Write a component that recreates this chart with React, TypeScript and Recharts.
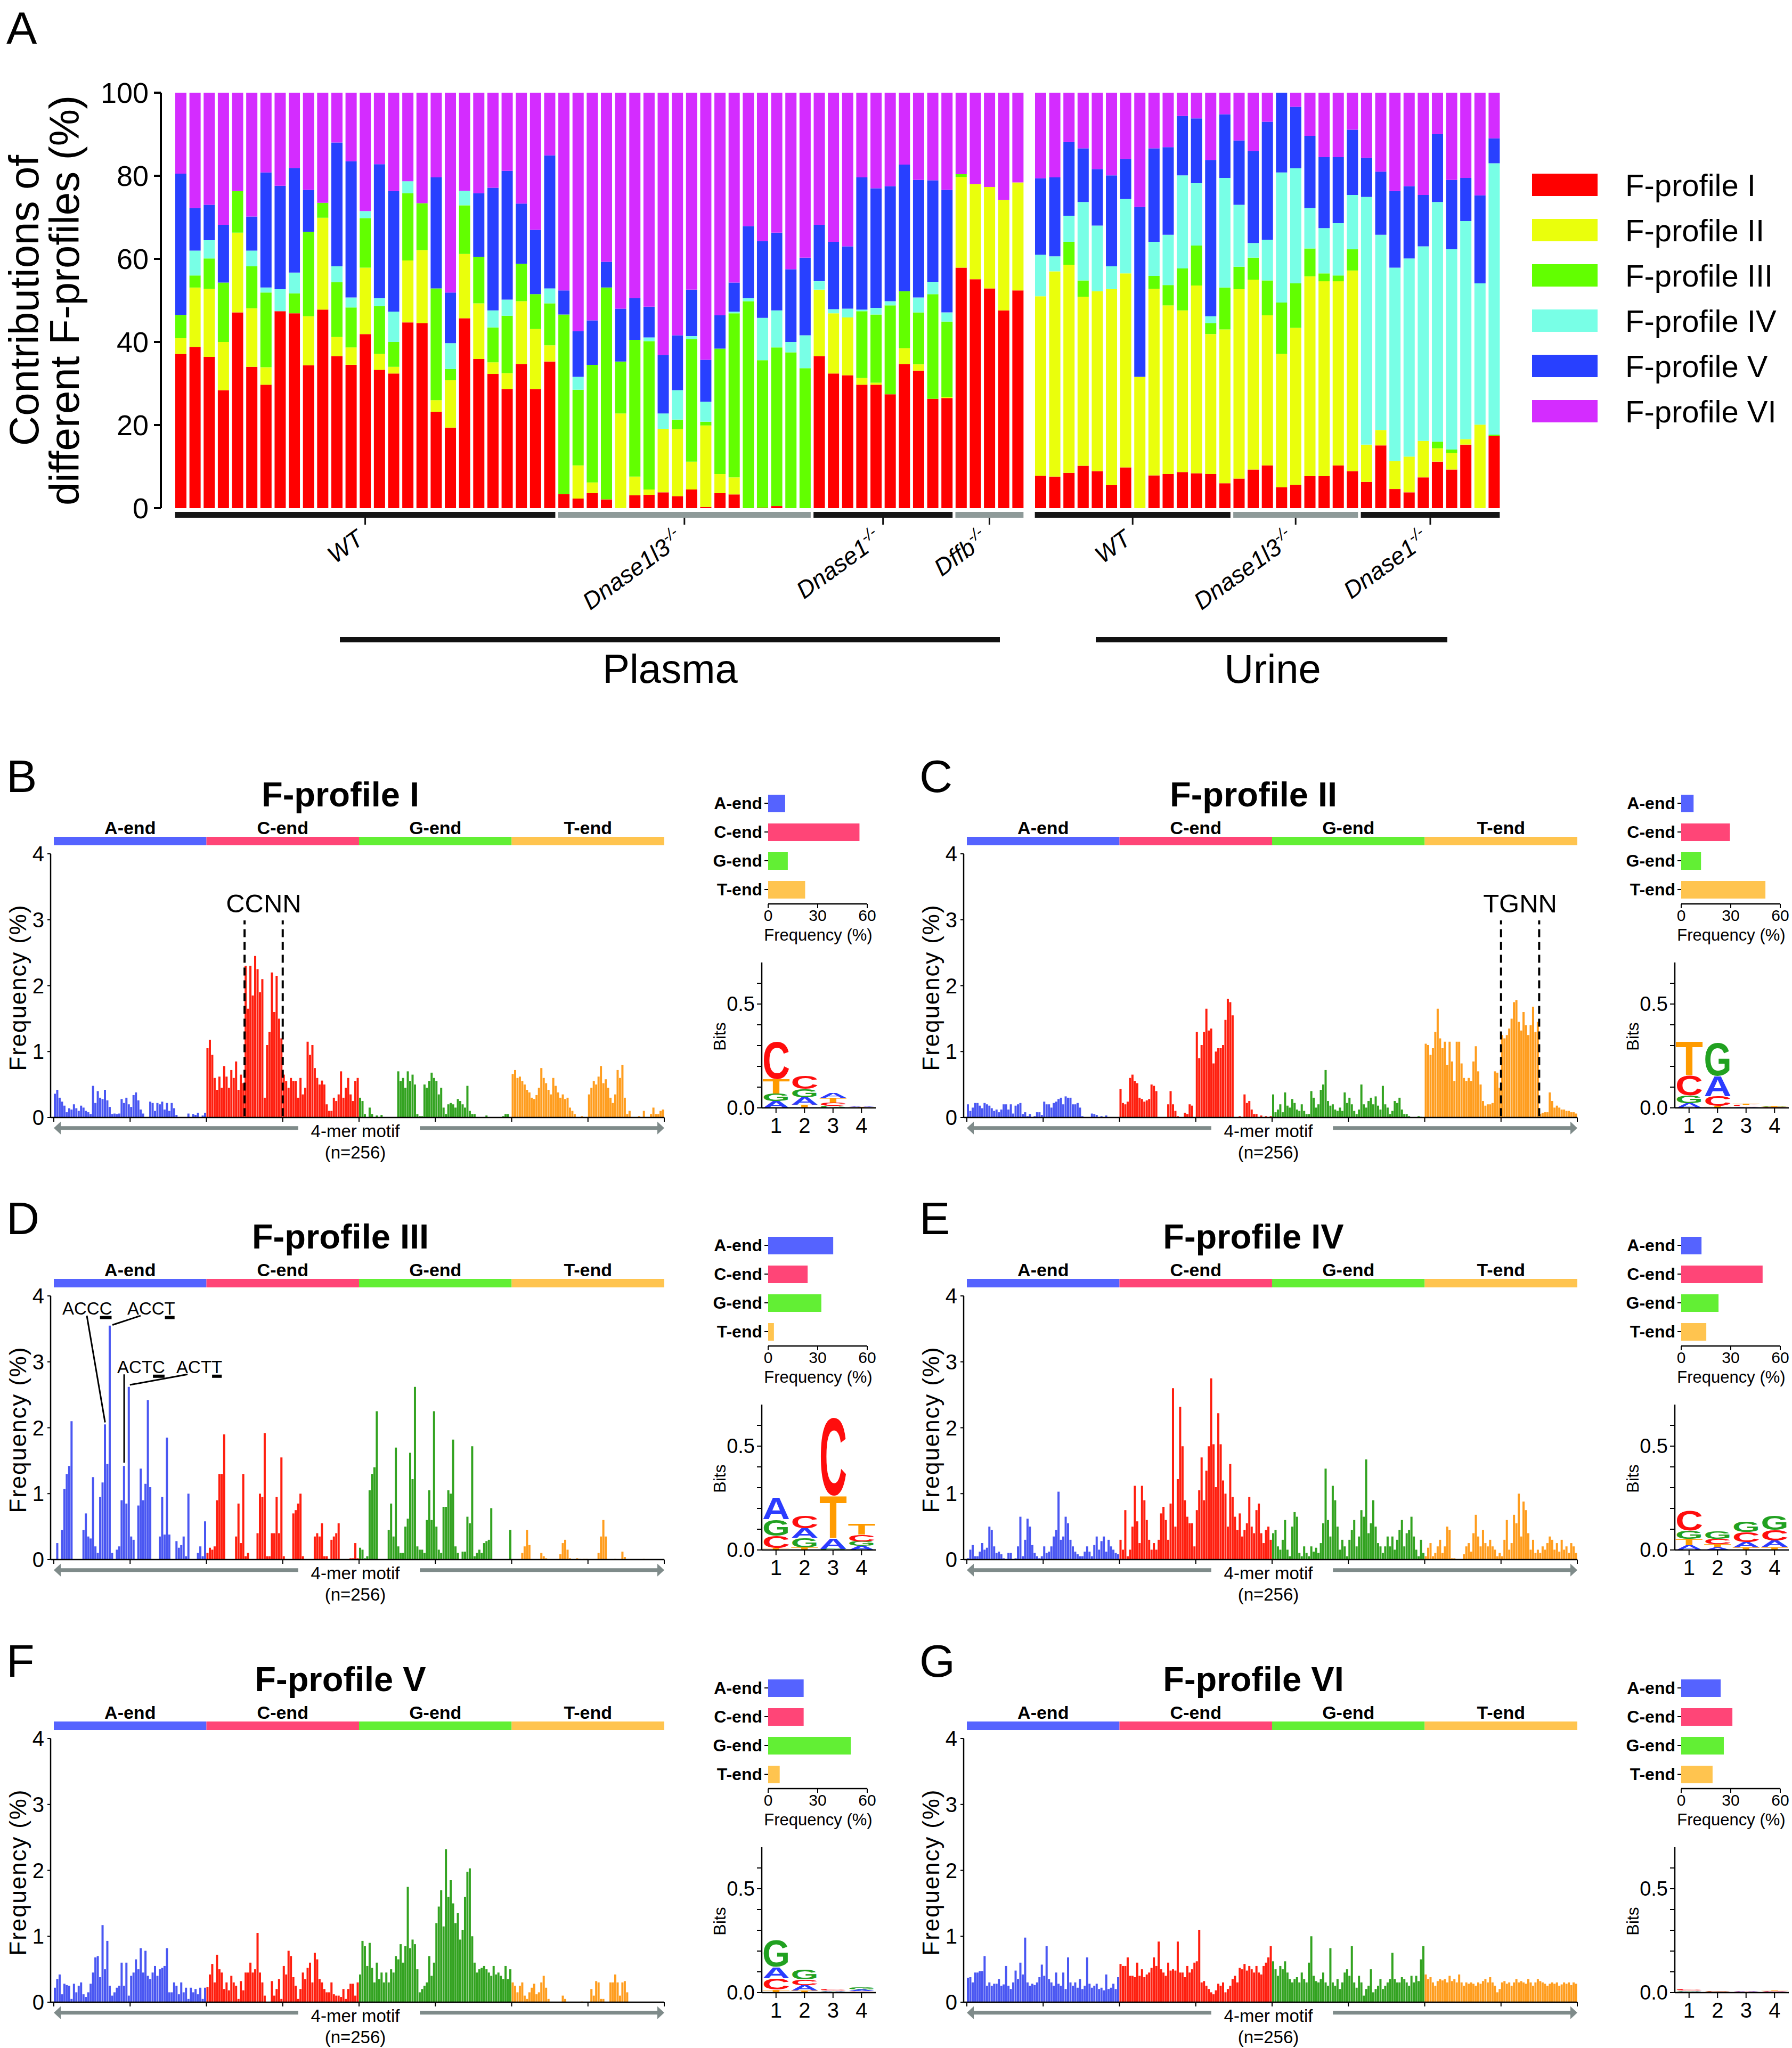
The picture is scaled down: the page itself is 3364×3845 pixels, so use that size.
import React from 'react';
import { BarChart, Bar, XAxis, YAxis, Cell, ReferenceArea, ReferenceLine, ReferenceDot } from 'recharts';

const SANS = "'Liberation Sans', Arial, Helvetica, sans-serif";

// ---------------- Panel A data ----------------
const profileNames = ['F-profile I', 'F-profile II', 'F-profile III', 'F-profile IV', 'F-profile V', 'F-profile VI'];
const profileColors = ['#ff0000', '#eaff0c', '#62ff00', '#78ffe6', '#2840ff', '#d42cff'];

const plasmaGroupNames = ['WT', 'Dnase1l3', 'Dnase1', 'Dffb'];
const plasmaGroupSizes = [27, 18, 10, 5];
const plasmaGroupShades = ['#151515', '#8e9a99', '#151515', '#8e9a99'];
const urineGroupNames = ['WT', 'Dnase1l3', 'Dnase1'];
const urineGroupSizes = [14, 9, 10];
const urineGroupShades = ['#151515', '#8e9a99', '#151515'];

const plasmaP1 = [37.1,38.8,36.4,28.4,47.1,34.0,29.7,47.4,46.9,34.4,47.8,36.6,34.5,41.9,33.3,32.4,44.7,44.5,23.2,19.4,45.7,35.9,32.3,28.7,34.7,28.7,35.3, 3.4,2.3,3.6,2.1,0,3.1,3.2,3.8,2.9,4.5,0.3,3.6,3.3,0,0.1,0.5,0,0, 36.6,32.4,32.0,29.7,29.7,27.4,34.7,33.1,26.3,26.5, 57.9,55.1,52.9,47.6,52.4];
const plasmaP2 = [3.8,14.3,16.4,11.6,19.2,14.1,4.2,0,0,11.8,22.1,4.6,4.2,16.0,3.8,1.6,14.9,17.6,2.8,11.4,15.5,13.4,2.8,3.8,15.1,14.4,3.9, 0,8.0,2.6,0,22.8,4.5,1.3,15.3,16.1,6.7,19.6,4.6,4.1,0,0,0,0,0, 16.0,14.5,13.9,1.6,0.5,0,3.8,1.5,0,0.3, 21.8,22.9,24.4,26.6,26.0];
const plasmaP3 = [5.6,2.9,7.3,14.3,10.0,10.1,18.0,0,4.8,20.3,3.6,13.2,9.6,11.9,11.5,6.0,16.2,11.3,26.9,2.7,11.7,11.2,8.4,13.8,9.0,8.4,10.1, 43.2,18.2,28.3,51.0,12.5,32.9,35.7,0,2.3,29.5,0.9,30.2,39.5,49.8,35.5,38.2,37.5,33.7, 0,0,0,16.1,16.4,21.4,13.7,12.5,25.2,18.1, 0.7,0,0,0,0];
const plasmaP4 = [0,6.0,4.4,0,0,3.8,1.2,5.3,5.0,0,0,3.8,2.4,1.7,1.9,7.3,2.9,0,0,6.2,3.5,0,4.1,3.9,0,0,3.6, 0,3.1,0,0,0,0,0.9,3.7,7.1,0.7,4.8,0,0.4,0.7,10.2,8.9,2.5,7.9, 2.0,1.0,2.1,0.4,1.6,1.0,0,3.6,3.0,2.2, 0,0,0,0,0];
const plasmaP5 = [34.0,10.2,8.5,13.9,0,8.2,27.7,24.9,25.2,10.1,0,29.8,32.8,0,32.3,29.0,0,0,26.7,12.2,0,15.3,29.5,31.0,14.5,15.5,32.0, 5.8,11.0,10.7,6.2,12.7,10.0,7.4,14.1,13.2,11.2,10.1,8.0,7.0,17.4,18.5,18.7,17.5,18.7, 13.6,16.2,15.0,31.8,28.8,27.7,30.5,28.3,24.4,29.5, 0,0,0,0,0];
const plasmaP6 = [19.5,27.8,27.0,31.8,23.7,29.8,19.2,22.4,18.1,23.4,26.5,12.0,16.5,28.5,17.2,23.7,21.3,26.6,20.4,48.1,23.6,24.2,22.9,18.8,26.7,33.0,15.1, 47.6,57.4,54.8,40.7,52.0,49.5,51.5,63.1,58.4,47.4,64.3,53.6,45.7,32.1,35.7,33.7,42.5,39.7, 31.8,35.9,37.0,20.4,23.0,22.5,17.3,21.0,21.1,23.4, 19.6,22.0,22.7,25.8,21.6];

const urineP1 = [7.8,7.6,8.5,10.2,8.9,5.5,9.8,0,7.9,8.2,8.7,8.4,8.2,6.0, 7.1,9.3,10.3,5.0,5.6,7.7,7.7,10.3,8.9, 6.3,15.1,4.6,3.8,7.4,11.2,9.3,15.3,0,17.4];
const urineP2 = [43.2,49.4,50.1,40.7,43.3,47.2,46.7,31.6,44.9,40.6,38.9,45.2,33.7,37.0, 45.6,45.7,36.1,32.1,37.8,48.1,46.9,44.3,48.3, 9.0,3.7,6.7,8.6,8.8,3.2,4.0,1.3,20.1,0];
const urineP3 = [0,0,5.5,3.9,0,0,0,0,3.1,4.9,10.1,9.6,2.6,10.1, 5.4,5.3,8.4,12.4,10.7,6.7,1.9,1.4,5.1, 0,0,0,0,0,1.6,0.8,0,0,0.3];
const urineP4 = [10.0,3.6,6.3,18.9,15.8,5.5,17.9,0,8.2,12.1,22.4,15.0,1.7,26.4, 14.9,3.5,9.8,31.3,27.7,9.7,10.9,12.6,13.1, 59.6,47.0,46.6,47.7,46.8,57.7,48.2,52.5,34.0,65.3];
const urineP5 = [18.4,19.0,17.7,12.9,13.6,21.9,9.6,40.9,22.5,21.1,14.3,15.6,37.6,15.3, 15.5,22.2,28.4,19.2,14.8,17.4,17.1,15.9,15.7, 9.4,15.2,18.4,17.4,12.4,16.3,16.7,10.4,21.2,6.0];
const urineP6 = [20.6,20.4,11.9,13.4,18.4,19.9,16.0,27.5,13.4,13.1,5.6,6.2,16.2,5.2, 11.5,14.0,7.0,0,3.4,10.4,15.5,15.5,8.9, 15.7,19.0,23.7,22.5,24.6,10.0,21.0,20.5,24.7,11.0];

// ---------------- Panels B-G data (4-mer motif frequencies, %) ----------------
const fp1A = [0.36,0.42,0.30,0.24,0.18,0.08,0.14,0.12,0.20,0.14,0.10,0.18,0.15,0.10,0.08,0.05, 0.48,0.22,0.40,0.30,0.28,0.42,0.26,0.16,0.05,0.06,0.05,0.06,0.28,0.22,0.30,0.20, 0.16,0.34,0.38,0.26,0.12,0.06,0.00,0.00,0.24,0.22,0.10,0.22,0.20,0.24,0.12,0.22, 0.10,0.22,0.14,0.04,0.00,0.00,0.00,0.00,0.06,0.00,0.05,0.04,0.07,0.00,0.03,0.07];
const fp1C = [1.05,1.18,0.95,0.60,0.42,0.62,0.45,0.78,0.62,0.45,0.72,0.60,0.85,0.42,0.65,0.52, 2.30,1.65,2.30,1.85,2.45,2.25,1.90,2.10,0.30,1.10,1.30,2.20,1.60,2.15,1.50,1.20, 0.65,0.55,0.45,0.60,0.55,0.55,0.30,0.60,0.35,0.45,1.15,0.95,1.10,0.75,0.60,0.50, 0.56,0.50,0.20,0.10,0.10,0.30,0.25,0.35,0.70,0.30,0.45,0.60,0.35,0.25,0.55,0.60];
const fp1G = [0.30,0.25,0.05,0.00,0.15,0.05,0.00,0.03,0.00,0.04,0.00,0.00,0.00,0.00,0.00,0.00, 0.70,0.55,0.60,0.45,0.70,0.55,0.65,0.50,0.05,0.02,0.02,0.50,0.45,0.55,0.68,0.60, 0.55,0.35,0.45,0.15,0.05,0.20,0.22,0.20,0.15,0.28,0.25,0.20,0.15,0.48,0.10,0.05, 0.05,0.00,0.00,0.00,0.00,0.03,0.00,0.00,0.00,0.00,0.00,0.00,0.02,0.05,0.05,0.00];
const fp1T = [0.66,0.72,0.60,0.62,0.55,0.50,0.42,0.38,0.30,0.28,0.34,0.45,0.75,0.60,0.52,0.42, 0.35,0.60,0.48,0.38,0.30,0.35,0.28,0.30,0.15,0.10,0.05,0.00,0.00,0.02,0.00,0.00, 0.35,0.45,0.55,0.50,0.62,0.78,0.52,0.58,0.45,0.30,0.22,0.35,0.72,0.60,0.80,0.30, 0.05,0.10,0.00,0.00,0.00,0.02,0.00,0.10,0.00,0.00,0.05,0.15,0.05,0.05,0.10,0.12];

const fp2A = [0.20,0.10,0.15,0.22,0.22,0.18,0.14,0.22,0.20,0.18,0.14,0.10,0.12,0.08,0.12,0.20, 0.20,0.12,0.20,0.06,0.18,0.20,0.22,0.05,0.08,0.02,0.05,0.00,0.02,0.08,0.08,0.04, 0.24,0.20,0.20,0.15,0.22,0.24,0.28,0.30,0.20,0.32,0.30,0.30,0.20,0.20,0.22,0.15, 0.02,0.00,0.00,0.00,0.06,0.05,0.04,0.00,0.02,0.00,0.03,0.00,0.00,0.00,0.00,0.00];
const fp2C = [0.43,0.22,0.20,0.24,0.60,0.65,0.55,0.52,0.30,0.28,0.24,0.26,0.28,0.50,0.48,0.40, 0.00,0.00,0.00,0.00,0.20,0.40,0.20,0.10,0.02,0.00,0.00,0.07,0.05,0.20,0.18,0.00, 1.30,0.90,1.10,1.30,1.65,1.32,1.35,0.82,1.00,1.05,1.05,1.10,1.48,1.80,1.75,1.55, 0.00,0.00,0.02,0.00,0.35,0.22,0.25,0.12,0.05,0.05,0.00,0.03,0.00,0.02,0.00,0.02];
const fp2G = [0.35,0.08,0.12,0.20,0.08,0.38,0.18,0.15,0.28,0.22,0.12,0.10,0.20,0.10,0.05,0.05, 0.40,0.30,0.15,0.20,0.42,0.50,0.72,0.25,0.18,0.20,0.12,0.10,0.15,0.10,0.38,0.22, 0.30,0.20,0.10,0.05,0.12,0.50,0.20,0.15,0.25,0.30,0.20,0.32,0.18,0.12,0.48,0.20, 0.15,0.05,0.10,0.25,0.22,0.30,0.12,0.05,0.05,0.02,0.00,0.00,0.00,0.02,0.01,0.00];
const fp2T = [1.12,1.10,0.95,1.05,1.30,1.65,1.20,1.05,1.15,0.80,1.15,0.85,0.55,1.15,1.15,0.82, 0.60,0.55,0.60,0.55,0.85,1.08,0.70,0.50,0.25,0.18,0.20,0.20,0.22,0.70,0.68,0.45, 1.25,1.20,1.25,1.35,1.50,1.75,1.78,1.45,1.32,1.60,1.40,1.25,1.40,1.68,1.30,1.45, 0.05,0.07,0.08,0.08,0.38,0.25,0.15,0.18,0.15,0.12,0.12,0.10,0.10,0.08,0.08,0.06];

const fp3A = [0.00,0.25,0.00,0.45,1.07,1.30,1.42,2.10,0.00,0.00,0.00,0.00,0.45,0.70,0.35,0.32, 1.25,0.20,0.10,0.95,1.17,2.05,1.45,3.55,0.10,0.00,0.15,0.20,0.90,1.42,0.85,2.62, 0.35,0.30,0.00,0.82,1.38,0.90,1.15,2.42,1.10,0.00,0.00,0.00,0.35,0.95,0.38,1.85, 0.38,0.00,0.00,0.28,0.18,0.22,0.35,0.05,1.00,0.00,0.00,0.00,0.10,0.20,0.05,0.58];
const fp3C = [0.10,0.18,0.15,0.20,0.90,1.30,1.30,1.90,0.00,0.00,0.00,0.00,0.35,0.85,0.25,1.30, 0.05,0.10,0.00,0.00,0.00,0.40,1.00,0.95,1.92,0.05,0.05,0.40,0.40,0.95,0.40,1.55, 0.05,0.00,0.00,0.00,0.70,0.75,0.85,1.00,0.05,0.00,0.00,0.00,0.00,0.35,0.40,0.35, 0.55,0.05,0.05,0.00,0.30,0.35,0.40,0.55,0.00,0.00,0.00,0.00,0.02,0.02,0.25,0.02];
const fp3G = [0.18,0.15,0.02,0.05,1.05,1.30,1.40,2.25,0.00,0.00,0.00,0.00,0.45,0.85,0.35,1.70, 0.20,0.10,0.10,0.50,0.62,1.62,1.22,2.62,0.20,0.15,0.15,0.10,0.60,1.05,0.60,2.25, 0.50,0.15,0.10,0.80,0.80,1.05,1.00,1.82,0.20,0.10,0.00,0.12,0.12,0.65,0.55,1.72, 0.05,0.10,0.15,0.10,0.25,0.28,0.30,0.78,0.00,0.00,0.00,0.00,0.00,0.00,0.00,0.45];
const fp3T = [0.00,0.00,0.00,0.00,0.10,0.20,0.45,0.22,0.00,0.00,0.00,0.00,0.10,0.05,0.02,0.00, 0.00,0.00,0.00,0.00,0.08,0.25,0.30,0.15,0.02,0.00,0.00,0.02,0.01,0.00,0.01,0.01, 0.00,0.00,0.00,0.00,0.10,0.35,0.60,0.35,0.00,0.00,0.00,0.01,0.00,0.00,0.12,0.04, 0.00,0.00,0.00,0.00,0.00,0.00,0.00,0.01,0.00,0.00,0.00,0.00,0.00,0.00,0.00,0.00];

const fp4A = [0.02,0.15,0.22,0.05,0.05,0.12,0.25,0.15,0.18,0.50,0.45,0.20,0.10,0.12,0.08,0.02, 0.00,0.10,0.10,0.00,0.02,0.20,0.65,0.05,0.30,0.62,0.50,0.22,0.10,0.05,0.02,0.05, 0.20,0.10,0.12,0.20,0.35,0.45,1.03,0.30,0.35,0.65,0.55,0.30,0.20,0.12,0.08,0.05, 0.05,0.12,0.20,0.12,0.05,0.22,0.35,0.15,0.28,0.35,0.12,0.30,0.20,0.15,0.10,0.08];
const fp4C = [0.30,0.15,0.75,0.05,0.15,0.50,1.12,0.58,0.25,1.12,0.90,0.60,0.30,0.15,0.25,0.15, 0.30,0.70,0.80,0.60,0.30,0.85,2.60,0.50,1.22,2.32,1.72,0.90,0.65,0.55,0.55,0.20, 0.75,1.05,1.55,0.90,1.35,1.72,2.75,1.75,1.10,2.22,1.75,1.20,1.00,0.50,1.45,0.95, 0.65,0.45,0.70,0.35,0.45,0.55,0.95,0.50,0.40,0.75,0.85,0.40,0.25,0.45,0.50,0.30];
const fp4G = [0.40,0.45,0.20,0.15,0.30,0.60,0.15,0.05,0.50,0.72,0.65,0.10,0.05,0.20,0.10,0.05, 0.20,0.12,0.18,0.10,0.25,0.55,1.38,0.60,0.35,1.12,0.90,0.50,0.15,0.30,0.20,0.05, 0.30,0.45,0.60,0.20,0.35,0.75,0.65,1.52,0.40,0.55,0.90,0.50,0.25,0.20,0.10,0.20, 0.35,0.20,0.35,0.15,0.30,0.45,0.60,0.20,0.40,0.45,0.65,0.35,0.15,0.05,0.30,0.10];
const fp4T = [0.05,0.18,0.25,0.05,0.10,0.20,0.30,0.10,0.20,0.50,0.45,0.02,0.02,0.00,0.00,0.00, 0.08,0.20,0.25,0.12,0.40,0.68,0.35,0.20,0.45,0.25,0.20,0.30,0.20,0.15,0.05,0.10, 0.05,0.30,0.60,0.15,0.25,0.68,0.55,1.00,0.35,0.88,0.75,0.40,0.15,0.30,0.10,0.15, 0.10,0.20,0.15,0.25,0.35,0.30,0.15,0.25,0.12,0.30,0.15,0.20,0.10,0.25,0.20,0.10];

const fp5A = [0.22,0.35,0.42,0.12,0.28,0.26,0.25,0.05,0.28,0.15,0.25,0.30,0.12,0.08,0.15,0.28, 0.45,0.68,0.70,0.38,1.17,0.50,0.93,0.25,0.10,0.15,0.22,0.25,0.60,0.25,0.60,0.10, 0.40,0.45,0.65,0.50,0.82,0.45,0.78,0.40,0.35,0.45,0.55,0.40,0.50,0.52,0.55,0.82, 0.15,0.15,0.30,0.25,0.12,0.30,0.15,0.22,0.05,0.22,0.15,0.20,0.12,0.22,0.05,0.22];
const fp5C = [0.23,0.42,0.58,0.30,0.72,0.50,0.45,0.20,0.30,0.18,0.40,0.30,0.25,0.05,0.32,0.18, 0.45,0.45,0.60,0.45,0.50,1.05,0.45,0.30,0.10,0.00,0.00,0.32,0.10,0.20,0.35,0.05, 0.55,0.42,0.78,0.70,0.38,0.25,0.05,0.20,0.45,0.35,0.52,0.60,0.30,0.75,0.65,0.35, 0.30,0.20,0.15,0.15,0.30,0.12,0.10,0.10,0.08,0.20,0.05,0.20,0.28,0.28,0.10,0.30];
const fp5G = [0.42,0.93,0.85,0.55,0.90,0.52,0.30,0.60,0.35,0.45,0.30,0.45,0.30,0.50,0.45,0.70, 0.65,0.88,0.60,0.85,1.75,0.82,0.95,0.88,0.50,0.15,0.20,0.25,0.30,0.70,0.40,0.60, 1.20,1.45,1.70,1.15,2.32,1.60,1.85,1.50,1.20,1.35,0.95,1.10,1.60,1.98,2.03,1.00, 0.60,0.45,0.50,0.52,0.55,0.50,0.45,0.40,0.55,0.42,0.45,0.40,0.35,0.55,0.35,0.50];
const fp5T = [0.30,0.25,0.15,0.25,0.30,0.10,0.05,0.15,0.22,0.28,0.12,0.15,0.30,0.40,0.22,0.05, 0.00,0.00,0.00,0.00,0.00,0.10,0.05,0.00,0.00,0.00,0.00,0.00,0.00,0.01,0.00,0.00, 0.00,0.20,0.10,0.32,0.30,0.05,0.05,0.00,0.00,0.30,0.30,0.42,0.30,0.10,0.30,0.32, 0.15,0.00,0.00,0.00,0.00,0.00,0.00,0.00,0.00,0.00,0.00,0.00,0.00,0.00,0.00,0.00];

const fp6A = [0.37,0.38,0.30,0.45,0.45,0.47,0.47,0.70,0.25,0.30,0.25,0.28,0.28,0.35,0.25,0.27, 0.55,0.25,0.20,0.30,0.48,0.35,0.60,0.42,0.98,0.30,0.25,0.28,0.26,0.30,0.38,0.57, 0.40,0.85,0.35,0.30,0.25,0.45,0.28,0.25,0.45,0.20,0.68,0.30,0.25,0.30,0.22,0.35, 0.20,0.25,0.68,0.28,0.22,0.25,0.28,0.20,0.22,0.18,0.42,0.20,0.22,0.28,0.20,0.38];
const fp6C = [0.58,0.55,0.55,0.68,0.40,0.40,0.38,0.60,0.40,0.50,0.38,0.42,0.45,0.52,0.68,0.55, 0.92,0.50,0.45,0.40,0.60,0.48,0.50,0.48,0.92,0.45,0.45,0.38,0.55,0.45,0.50,0.60, 0.62,1.10,0.30,0.32,0.25,0.20,0.15,0.12,0.18,0.28,0.25,0.30,0.15,0.20,0.25,0.35, 0.40,0.30,0.52,0.50,0.58,0.48,0.55,0.50,0.45,0.55,0.45,0.42,0.55,0.60,0.68,0.85];
const fp6G = [0.62,0.50,0.40,0.55,0.50,0.62,0.45,0.35,0.30,0.35,0.38,0.30,0.45,0.35,0.30,0.60, 1.00,0.40,0.32,0.30,0.35,0.45,0.30,0.25,0.82,0.30,0.25,0.35,0.20,0.30,0.45,0.50, 0.40,0.85,0.30,0.22,0.40,0.30,0.10,0.20,0.25,0.50,0.15,0.20,0.25,0.35,0.20,0.25, 0.30,0.35,0.75,0.35,0.30,0.30,0.38,0.35,0.30,0.25,0.40,0.30,0.40,0.32,0.65,0.85];
const fp6T = [0.42,0.35,0.38,0.30,0.25,0.32,0.35,0.33,0.35,0.30,0.40,0.32,0.35,0.30,0.42,0.30, 0.25,0.30,0.28,0.30,0.28,0.25,0.30,0.28,0.32,0.35,0.30,0.38,0.30,0.25,0.15,0.20, 0.30,0.32,0.28,0.30,0.25,0.30,0.35,0.30,0.32,0.30,0.28,0.35,0.30,0.25,0.30,0.35, 0.32,0.30,0.28,0.25,0.28,0.30,0.28,0.30,0.25,0.27,0.30,0.28,0.30,0.26,0.30,0.28];

// end-base frequencies (%): A-end, C-end, G-end, T-end
const endNames = ['A-end', 'C-end', 'G-end', 'T-end'];
const endI = [10.3, 55.3, 11.9, 22.4];
const endII = [7.5, 29.5, 12, 51];
const endIII = [39.4, 23.9, 32.2, 3.5];
const endIV = [12.3, 49.3, 22.6, 15.2];
const endV = [21.5, 21.5, 50, 7];
const endVI = [23.9, 31, 25.8, 19];

// sequence logo information (bits) per position 1..4
const logo1A = [0.034, 0.036, 0.024, 0.003], logo1C = [0.18, 0.066, 0.016, 0.003], logo1G = [0.036, 0.04, 0.01, 0.002], logo1T = [0.072, 0.016, 0.022, 0.002];
const logo2A = [0.023, 0.1, 0.004, 0.002], logo2C = [0.096, 0.047, 0.006, 0.002], logo2G = [0.038, 0.16, 0.003, 0.002], logo2T = [0.167, 0.01, 0.008, 0.002];
const logo3A = [0.106, 0.048, 0.052, 0.02], logo3C = [0.058, 0.061, 0.38, 0.032], logo3G = [0.08, 0.045, 0.006, 0.022], logo3T = [0.01, 0.013, 0.208, 0.055];
const logo4A = [0.022, 0.013, 0.026, 0.03], logo4C = [0.094, 0.026, 0.048, 0.052], logo4G = [0.042, 0.038, 0.05, 0.069], logo4T = [0.032, 0.016, 0.013, 0.015];
const logo5A = [0.056, 0.026, 0.004, 0.008], logo5C = [0.055, 0.028, 0.005, 0.004], logo5G = [0.13, 0.047, 0.003, 0.009], logo5T = [0.015, 0.01, 0.002, 0.003];
const logo6A = [0.004, 0.002, 0.003, 0.003], logo6C = [0.006, 0.003, 0.002, 0.003], logo6G = [0.004, 0.002, 0.001, 0.002], logo6T = [0.002, 0.001, 0.001, 0.004];

// ---------------- styling ----------------
const mainBarColors = ['#4a57f2', '#ff1f0f', '#33a321', '#ff9d1e'];
const stripColors = ['#5563ff', '#ff4577', '#62ef34', '#ffc44f'];
const letterColors: Record<string, string> = { A: '#2b3cff', C: '#ff0d0d', G: '#21a121', T: '#ff9b00' };
const ARROW = '#7f8b8a';

const profiles = [
  { letter: 'B', title: profileNames[0], a: fp1A, c: fp1C, g: fp1G, t: fp1T, ends: endI, logo: [logo1A, logo1C, logo1G, logo1T], ox: 0, oy: 0, mark: { name: 'CCNN', from: 79.5, to: 95.5 } },
  { letter: 'C', title: profileNames[1], a: fp2A, c: fp2C, g: fp2G, t: fp2T, ends: endII, logo: [logo2A, logo2C, logo2G, logo2T], ox: 1714, oy: 0, mark: { name: 'TGNN', from: 223.5, to: 239.5 } },
  { letter: 'D', title: profileNames[2], a: fp3A, c: fp3C, g: fp3G, t: fp3T, ends: endIII, logo: [logo3A, logo3C, logo3G, logo3T], ox: 0, oy: 830, motifs: true },
  { letter: 'E', title: profileNames[3], a: fp4A, c: fp4C, g: fp4G, t: fp4T, ends: endIV, logo: [logo4A, logo4C, logo4G, logo4T], ox: 1714, oy: 830 },
  { letter: 'F', title: profileNames[4], a: fp5A, c: fp5C, g: fp5G, t: fp5T, ends: endV, logo: [logo5A, logo5C, logo5G, logo5T], ox: 0, oy: 1661 },
  { letter: 'G', title: profileNames[5], a: fp6A, c: fp6C, g: fp6G, t: fp6T, ends: endVI, logo: [logo6A, logo6C, logo6G, logo6T], ox: 1714, oy: 1661 },
];

// ---------------- Panel A ----------------
function groupInfo(sizes: number[]) {
  const out: { start: number; end: number; center: number }[] = [];
  let s = 0;
  sizes.forEach((n) => {
    out.push({ start: s, end: s + n - 1, center: s + (n - 1) / 2 });
    s += n;
  });
  return out;
}

function buildRows(series: number[][]) {
  return series[0].map((_, i) => {
    const r: any = { i };
    series.forEach((s, k) => { r['p' + k] = s[i]; });
    return r;
  });
}

const makeGroupTick = (names: string[], centers: number[]) => (props: any) => {
  const { x, y, payload } = props;
  const k = centers.indexOf(payload.value);
  const name = names[k] || '';
  const ay = y + 64;
  return (
    <g>
      <line x1={x} x2={x} y1={y + 18} y2={y + 31} stroke="#111" strokeWidth={3} />
      <text x={x} y={ay} transform={`rotate(-36 ${x} ${ay})`} textAnchor="end" fontFamily={SANS} fontStyle="italic" fontSize={45} fill="#000">
        {name}
        {name !== 'WT' ? <tspan dy={-18} fontSize={30}>-/-</tspan> : null}
      </text>
    </g>
  );
};

function StackChart({ series, sizes, names, shades, left, width, withAxis }: any) {
  const rows = buildRows(series);
  const groups = groupInfo(sizes);
  const centers = groups.map((g) => g.center);
  const n = rows.length;
  return (
    <div style={{ position: 'absolute', left, top: 120 }}>
      <BarChart width={width} height={1100} data={rows}
        margin={withAxis ? { top: 54, right: 6, bottom: 66, left: 182 } : { top: 54, right: 12, bottom: 66, left: 10 }}>
        <XAxis type="number" dataKey="i" domain={[-0.5, n - 0.5]} ticks={centers} interval={0}
          padding={withAxis ? { left: 24, right: 0 } : { left: 0, right: 0 }}
          axisLine={false} tickLine={false} tickSize={0} tickMargin={0} height={200}
          tick={makeGroupTick(names, centers)} />
        {withAxis ? (
          <YAxis type="number" domain={[0, 100]} ticks={[0, 20, 40, 60, 80, 100]} width={120} interval={0}
            tickSize={13} tickMargin={10}
            axisLine={{ stroke: '#000', strokeWidth: 4 }} tickLine={{ stroke: '#000', strokeWidth: 4 }}
            tick={{ fontSize: 54, fill: '#000', fontFamily: SANS }} />
        ) : (
          <YAxis type="number" domain={[0, 100]} hide />
        )}
        {series.map((_: any, k: number) => (
          <Bar key={k} dataKey={'p' + k} stackId="a" fill={profileColors[k]} barSize={21} isAnimationActive={false} />
        ))}
        {groups.map((g, k) => (
          <ReferenceArea key={'g' + k} x1={g.start - 0.4} x2={g.end + 0.4} y1={-0.9} y2={-2.3}
            fill={shades[k]} fillOpacity={1} stroke="none" ifOverflow="visible" />
        ))}
      </BarChart>
    </div>
  );
}

// ---------------- Panels B-G ----------------
const bounds = [-0.5, 31.5, 63.5, 95.5, 127.5, 159.5, 191.5, 223.5, 255.5];

const arrowShape = (dir: 'left' | 'right') => (p: any) => {
  const { x1, y1, x2 } = p;
  const tip = dir === 'left' ? Math.min(x1, x2) : Math.max(x1, x2);
  const other = dir === 'left' ? Math.max(x1, x2) : Math.min(x1, x2);
  const base = dir === 'left' ? tip + 13 : tip - 13;
  return (
    <g>
      <line x1={other} y1={y1} x2={base} y2={y1} stroke={ARROW} strokeWidth={7} />
      <polygon points={`${tip},${y1} ${base},${y1 - 12} ${base},${y1 + 12}`} fill={ARROW} />
    </g>
  );
};

const glyphW: Record<string, number> = { A: 0.667, C: 0.722, T: 0.611, G: 0.778 };
const motifLabel = (text: string) => (p: any) => {
  const { cx, cy } = p;
  const fs = 33;
  const pre = text.slice(0, text.length - 1).split('').reduce((s, ch) => s + glyphW[ch] * fs, 0);
  const last = glyphW[text[text.length - 1]] * fs;
  return (
    <g>
      <text x={cx} y={cy} fontSize={fs} fontFamily={SANS} fill="#000">{text}</text>
      <rect x={cx + pre + 1} y={cy + 3} width={last - 2} height={6} fill="#000" />
    </g>
  );
};

const centeredText = (text: string, fs: number) => (p: any) => (
  <text x={p.cx} y={p.cy} fontSize={fs} fontFamily={SANS} fill="#000" textAnchor="middle">{text}</text>
);

function MainProfile({ prof }: any) {
  const values = [...prof.a, ...prof.c, ...prof.g, ...prof.t];
  const data = values.map((v: number, i: number) => ({ i, v }));
  const axisStyle = { stroke: '#000', strokeWidth: 2.5 };
  return (
    <div style={{ position: 'absolute', left: prof.ox, top: prof.oy + 1500 }}>
      <BarChart width={1300} height={700} data={data} margin={{ top: 103, right: 53, bottom: 82, left: 35 }}>
        <XAxis type="number" dataKey="i" domain={[-0.5, 255.5]} ticks={bounds} interval={0}
          tickFormatter={() => ''} tickSize={8} padding={{ left: 6, right: 0 }} height={20}
          axisLine={axisStyle} tickLine={{ stroke: '#000', strokeWidth: 2 }} />
        <YAxis type="number" domain={[0, 4]} ticks={[0, 1, 2, 3, 4]} width={60} interval={0} tickSize={6} tickMargin={6}
          axisLine={axisStyle} tickLine={{ stroke: '#000', strokeWidth: 2 }}
          tick={{ fontSize: 40, fill: '#000', fontFamily: SANS }} />
        {endNames.map((nm, k) => (
          <ReferenceArea key={'s' + k} x1={64 * k - 0.5} x2={64 * k + 63.5} y1={4.129} y2={4.258}
            fill={stripColors[k]} fillOpacity={1} stroke="none" ifOverflow="visible"
            label={{ value: nm, position: 'top', offset: 5, fontSize: 34, fontWeight: 'bold', fill: '#000', fontFamily: SANS }} />
        ))}
        <Bar dataKey="v" barSize={4} isAnimationActive={false}>
          {data.map((d: any) => (
            <Cell key={d.i} fill={mainBarColors[Math.floor(d.i / 64)]} />
          ))}
        </Bar>
        <ReferenceLine segment={[{ x: -0.5, y: -0.16 }, { x: 102, y: -0.16 }]} ifOverflow="visible" shape={arrowShape('left')} />
        <ReferenceLine segment={[{ x: 153, y: -0.16 }, { x: 255.5, y: -0.16 }]} ifOverflow="visible" shape={arrowShape('right')} />
        {prof.mark ? [
          <ReferenceLine key="m1" segment={[{ x: prof.mark.from, y: 0.02 }, { x: prof.mark.from, y: 2.99 }]} stroke="#000" strokeWidth={4} strokeDasharray="15 9" ifOverflow="visible" />,
          <ReferenceLine key="m2" segment={[{ x: prof.mark.to, y: 0.02 }, { x: prof.mark.to, y: 2.99 }]} stroke="#000" strokeWidth={4} strokeDasharray="15 9" ifOverflow="visible" />,
          <ReferenceDot key="m3" x={(prof.mark.from + prof.mark.to) / 2} y={3.11} r={0} ifOverflow="visible" shape={centeredText(prof.mark.name, 49)} />,
        ] : null}
        {prof.motifs ? [
          <ReferenceLine key="l1" segment={[{ x: 13.35, y: 3.7 }, { x: 21, y: 2.08 }]} stroke="#000" strokeWidth={3} ifOverflow="visible" />,
          <ReferenceLine key="l2" segment={[{ x: 35.9, y: 3.7 }, { x: 24.1, y: 3.56 }]} stroke="#000" strokeWidth={3} ifOverflow="visible" />,
          <ReferenceLine key="l3" segment={[{ x: 29, y: 2.81 }, { x: 29, y: 1.47 }]} stroke="#000" strokeWidth={3} ifOverflow="visible" />,
          <ReferenceLine key="l4" segment={[{ x: 55.6, y: 2.81 }, { x: 31.4, y: 2.65 }]} stroke="#000" strokeWidth={3} ifOverflow="visible" />,
          <ReferenceDot key="t1" x={3.07} y={3.72} r={0} ifOverflow="visible" shape={motifLabel('ACCC')} />,
          <ReferenceDot key="t2" x={30.3} y={3.72} r={0} ifOverflow="visible" shape={motifLabel('ACCT')} />,
          <ReferenceDot key="t3" x={26.1} y={2.83} r={0} ifOverflow="visible" shape={motifLabel('ACTC')} />,
          <ReferenceDot key="t4" x={50.9} y={2.83} r={0} ifOverflow="visible" shape={motifLabel('ACTT')} />,
        ] : null}
      </BarChart>
    </div>
  );
}

function EndBars({ prof }: any) {
  const rows = endNames.map((name, k) => ({ name, v: prof.ends[k] }));
  return (
    <div style={{ position: 'absolute', left: prof.ox + 1300, top: prof.oy + 1440 }}>
      <BarChart width={360} height={340} data={rows} layout="vertical" margin={{ top: 41, right: 32, bottom: 33, left: 12 }}>
        <XAxis type="number" domain={[0, 60]} ticks={[0, 30, 60]} height={50} interval={0} tickSize={8} tickMargin={3}
          tick={{ fontSize: 30, fill: '#000', fontFamily: SANS }}
          axisLine={{ stroke: '#000', strokeWidth: 2.5 }} tickLine={{ stroke: '#000', strokeWidth: 2 }} />
        <YAxis type="category" dataKey="name" width={130} axisLine={false} tickSize={7} tickMargin={4} interval={0}
          tick={{ fontSize: 32, fontWeight: 'bold', fill: '#000', fontFamily: SANS }}
          tickLine={{ stroke: '#000', strokeWidth: 2 }} />
        <Bar dataKey="v" barSize={33} isAnimationActive={false}>
          {rows.map((r, k) => <Cell key={k} fill={stripColors[k]} />)}
        </Bar>
      </BarChart>
    </div>
  );
}

function logoRows(logo: number[][]) {
  const letters = ['A', 'C', 'G', 'T'];
  return [0, 1, 2, 3].map((p) => {
    const items = letters.map((l, k) => ({ l, h: logo[k][p] })).sort((u, v) => u.h - v.h);
    const row: any = { pos: String(p + 1) };
    items.forEach((it, k) => { row['h' + k] = it.h; row['l' + k] = it.l; });
    return row;
  });
}

const letterShape = (k: number) => (props: any) => {
  const { x, y, width, height, payload } = props;
  if (!height || height <= 0 || !payload) return <g />;
  const letter = payload['l' + k];
  const sy = height / 72;
  return (
    <text x={x} y={0} transform={`translate(0 ${y + height}) scale(1 ${sy})`} fontSize={100} fontFamily={SANS}
      fontWeight="bold" fill={letterColors[letter]} textLength={width} lengthAdjust="spacingAndGlyphs">{letter}</text>
  );
};

function Logo({ prof }: any) {
  const rows = logoRows(prof.logo);
  return (
    <div style={{ position: 'absolute', left: prof.ox + 1320, top: prof.oy + 1780 }}>
      <BarChart width={340} height={400} data={rows} margin={{ top: 27, right: 16, bottom: 40, left: 0 }} barCategoryGap={1}>
        <XAxis dataKey="pos" height={60} tickSize={10} tickMargin={9} interval={0}
          tick={{ fontSize: 40, fill: '#000', fontFamily: SANS }}
          axisLine={{ stroke: '#000', strokeWidth: 2.5 }} tickLine={{ stroke: '#000', strokeWidth: 2 }} />
        <YAxis type="number" domain={[0, 0.7]} ticks={[0, 0.1, 0.2, 0.3, 0.4, 0.5, 0.6]} width={110} interval={0}
          tickSize={9} tickMargin={4}
          tickFormatter={(v: number) => (v === 0 ? '0.0' : v === 0.5 ? '0.5' : '')}
          tick={{ fontSize: 38, fill: '#000', fontFamily: SANS }}
          axisLine={{ stroke: '#000', strokeWidth: 2.5 }} tickLine={{ stroke: '#000', strokeWidth: 2 }} />
        {[0, 1, 2, 3].map((k) => (
          <Bar key={k} dataKey={'h' + k} stackId="s" isAnimationActive={false} shape={letterShape(k)} />
        ))}
      </BarChart>
    </div>
  );
}

function Overlay() {
  return (
    <svg width={3364} height={3845} style={{ position: 'absolute', left: 0, top: 0, pointerEvents: 'none' }} fontFamily={SANS}>
      <text x={12} y={82} fontSize={86} fill="#000">A</text>
      <text transform="translate(72 564) rotate(-90)" textAnchor="middle" fontSize={78} fill="#000">Contributions of</text>
      <text transform="translate(148 564) rotate(-90)" textAnchor="middle" fontSize={78} fill="#000">different F-profiles (%)</text>
      {profileNames.map((nm, k) => (
        <g key={nm}>
          <rect x={2876} y={326 + 85 * k} width={123} height={42} fill={profileColors[k]} />
          <text x={3051} y={368 + 85 * k} fontSize={58} fill="#000">{nm}</text>
        </g>
      ))}
      <rect x={638} y={1196} width={1239} height={10} fill="#111" />
      <text x={1258} y={1282} textAnchor="middle" fontSize={76} fill="#000">Plasma</text>
      <rect x={2057} y={1196} width={660} height={10} fill="#111" />
      <text x={2389} y={1282} textAnchor="middle" fontSize={76} fill="#000">Urine</text>
      {profiles.map((p) => (
        <g key={p.letter} transform={`translate(${p.ox} ${p.oy})`}>
          <text x={12} y={1487} fontSize={86} fill="#000">{p.letter}</text>
          <text x={639} y={1514} textAnchor="middle" fontSize={65} fontWeight="bold" fill="#000">{p.title}</text>
          <text transform="translate(33 1855) rotate(-90)" textAnchor="middle" dominantBaseline="central" fontSize={44}
            textLength={311} lengthAdjust="spacing" fill="#000">Frequency (%)</text>
          <text x={667} y={2135} textAnchor="middle" fontSize={33} fill="#000">4-mer motif</text>
          <text x={667} y={2175} textAnchor="middle" fontSize={33} fill="#000">(n=256)</text>
          <text x={1536} y={1766} textAnchor="middle" fontSize={31} fill="#000">Frequency (%)</text>
          <text transform="translate(1351 1946) rotate(-90)" textAnchor="middle" dominantBaseline="central" fontSize={32} fill="#000">Bits</text>
        </g>
      ))}
    </svg>
  );
}

export default function App() {
  return (
    <div style={{ position: 'relative', width: 3364, height: 3845, background: '#fff', fontFamily: SANS, overflow: 'hidden' }}>
      <style>{'body{margin:0;}'}</style>
      <StackChart series={[plasmaP1, plasmaP2, plasmaP3, plasmaP4, plasmaP5, plasmaP6]} sizes={plasmaGroupSizes}
        names={plasmaGroupNames} shades={plasmaGroupShades} left={0} width={1930} withAxis />
      <StackChart series={[urineP1, urineP2, urineP3, urineP4, urineP5, urineP6]} sizes={urineGroupSizes}
        names={urineGroupNames} shades={urineGroupShades} left={1930} width={900} withAxis={false} />
      {profiles.map((p) => (
        <React.Fragment key={p.letter}>
          <MainProfile prof={p} />
          <EndBars prof={p} />
          <Logo prof={p} />
        </React.Fragment>
      ))}
      <Overlay />
    </div>
  );
}
